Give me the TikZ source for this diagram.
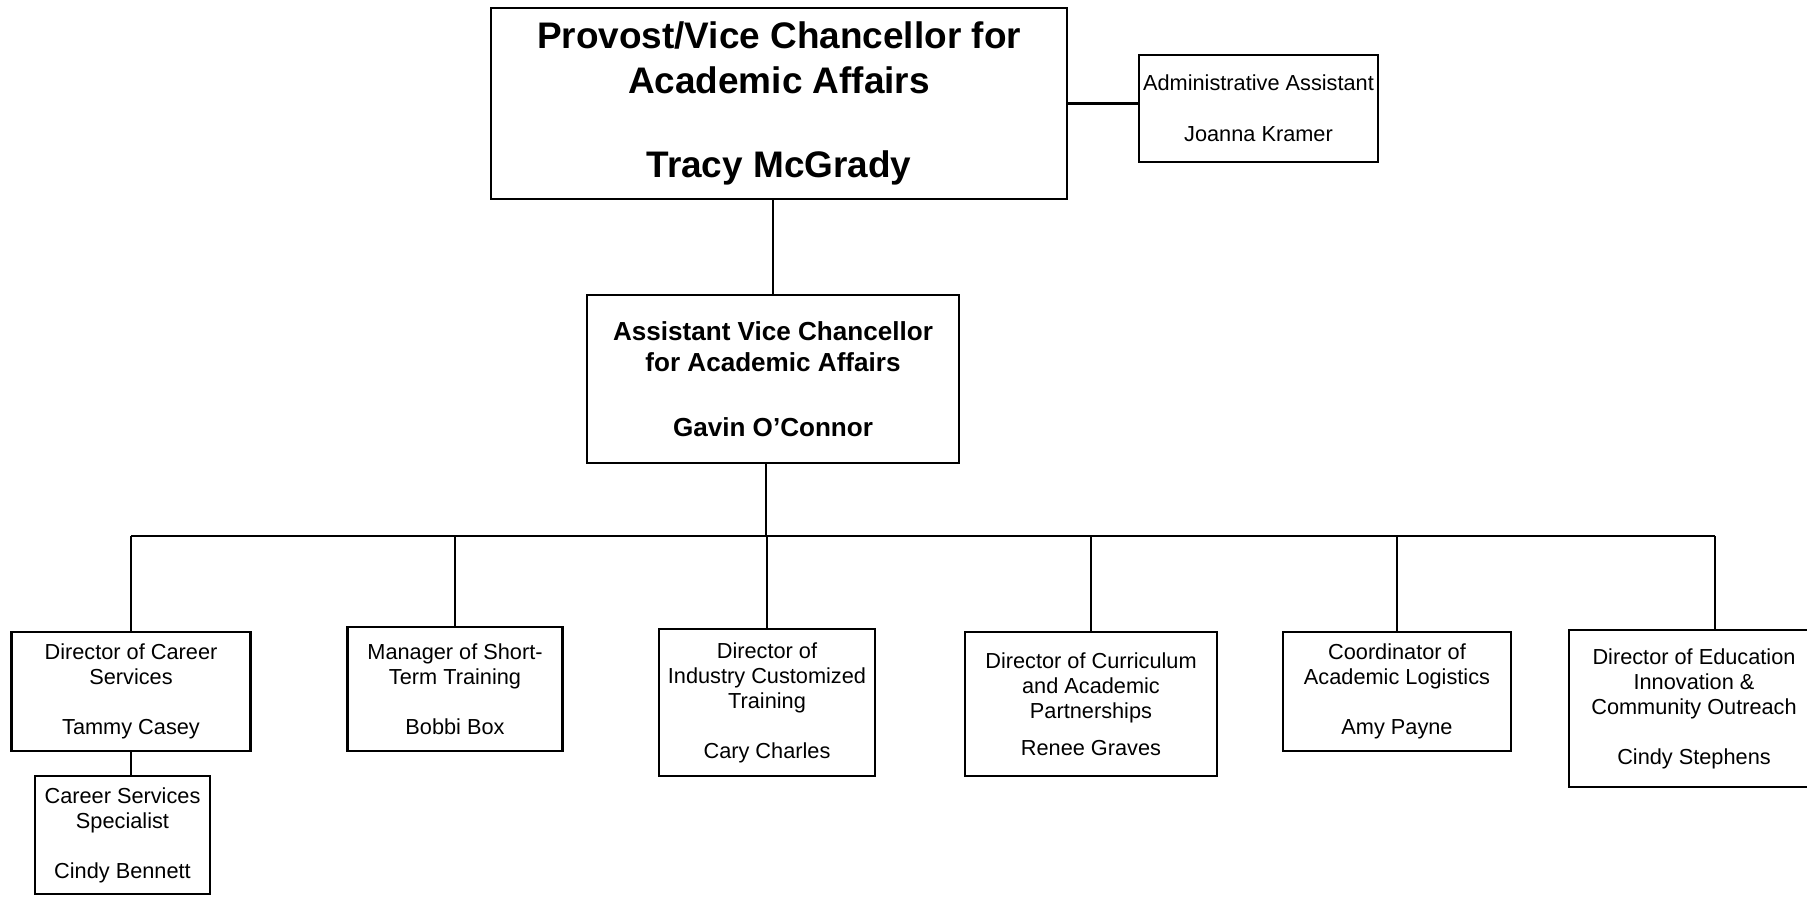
\documentclass[tikz,border=0pt]{standalone}
\usepackage{fontspec}
\setmainfont{Liberation Sans}
\usetikzlibrary{calc,positioning}

\begin{document}
\begin{tikzpicture}[x=0.46pt,y=-0.46pt,line width=1pt]

\tikzset{box/.style={draw=black,line width=1pt,align=center,inner sep=2pt,font=\fontsize{10}{11.5}\selectfont},
bigbox/.style={box,font=\bfseries\fontsize{17}{20.7}\selectfont},
midbox/.style={box,font=\bfseries\fontsize{12}{14.3}\selectfont}}

\useasboundingbox (0,0) rectangle (1807,897);

% Top of the chart
\node[bigbox,minimum width=265pt,minimum height=87.9pt] (provost) at (779,103.5) {Provost/Vice Chancellor for\\Academic Affairs\\[18pt]Tracy McGrady};
\node[box,minimum width=110pt,minimum height=49.2pt] (admin) at (1258.5,108.5) {Administrative Assistant\\[11.8pt]Joanna Kramer};
\node[midbox,minimum width=171.1pt,minimum height=77.3pt] (avc) at (773,379) {Assistant Vice Chancellor\\for Academic Affairs\\[15.4pt]Gavin O’Connor};

% Directors
\node[box,minimum width=110pt,minimum height=54.7pt] (career) at (131,691.5) {Director of Career\\Services\\[11.5pt]Tammy Casey};
\node[box,minimum width=98.9pt,minimum height=57pt] (short) at (455,689) {Manager of Short-\\Term Training\\[11.5pt]Bobbi Box};
\node[box,minimum width=99.4pt,minimum height=67.6pt] (industry) at (767,702.5) {Director of\\Industry Customized\\Training\\[11.5pt]Cary Charles};
\node[box,minimum width=115.9pt,minimum height=66.2pt] (curric) at (1091,704) {Director of Curriculum\\and Academic\\Partnerships\\[5.75pt]Renee Graves};
\node[box,minimum width=104.9pt,minimum height=54.7pt] (logist) at (1397,691.5) {Coordinator of\\Academic Logistics\\[11.5pt]Amy Payne};
\node[box,minimum width=115pt,minimum height=72.2pt] (educ) at (1694,708.5) {Director of Education\\Innovation \&\\Community Outreach\\[11.5pt]Cindy Stephens};

% Under career services
\node[box,minimum width=80.5pt,minimum height=54.3pt] (spec) at (122.5,835) {Career Services\\Specialist\\[11.5pt]Cindy Bennett};

% Bus
\coordinate (bus) at (766,536);
\coordinate (busR) at (1715,536);

% Edges
\draw (provost.east) -- (provost.east -| admin.west);
\draw (provost.south -| avc.north) -- (avc.north);
\draw (avc.south -| bus) -- (bus);
\draw (career.north |- bus) -- (busR);
\foreach \n in {career,short,industry,curric,logist} \draw (bus -| \n.north) -- (\n.north);
\draw (busR) -- (busR |- educ.north);
\draw (career.south) -- (career.south |- spec.north);

\end{tikzpicture}
\end{document}
